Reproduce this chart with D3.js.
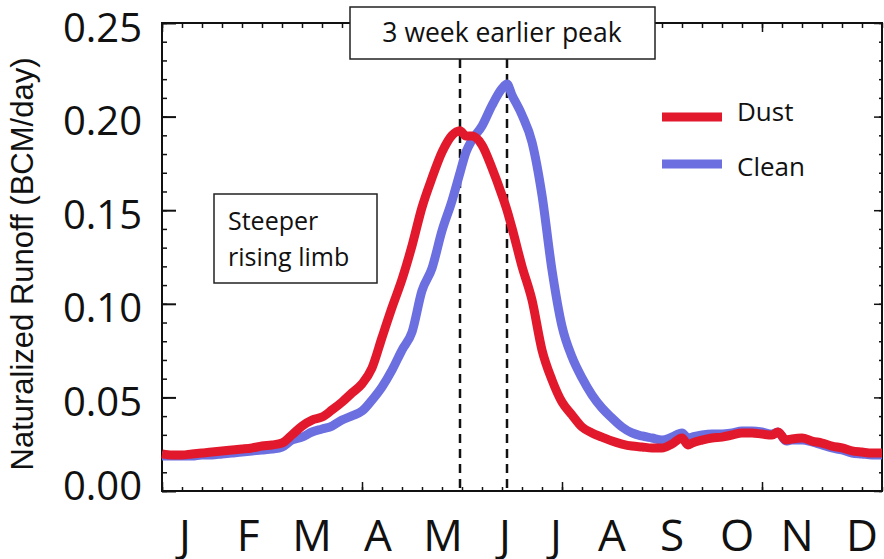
<!DOCTYPE html>
<html lang="en">
<head>
  <meta charset="UTF-8">
  <title>Naturalized Runoff: Dust vs Clean</title>
  <style>
    * { box-sizing: border-box; margin: 0; }
    body { background: #fff; }
    svg { display: block; }
    .tick text { font-family: "Open Sans", sans-serif; fill: #111; }
    .tick line { stroke: #111; }
  </style>
</head>
<body>
  <svg></svg>
  <script src="https://d3js.org/d3.v7.min.js"></script>
  <script>
    // day of water-year axis (0..360)
    const days = [0, 5, 10, 15, 20, 25, 30, 35, 40, 45, 50, 55, 60, 65, 70, 75, 80, 85, 90, 95,
      100, 105, 110, 115, 120, 125, 130, 135, 140, 145, 149, 152, 155, 160, 165, 170, 172.5, 175,
      180, 185, 190, 195, 200, 205, 210, 215, 220, 225, 230, 235, 240, 245, 250, 255, 260, 263,
      265, 270, 275, 280, 285, 290, 295, 300, 305, 308, 312, 315, 320, 325, 330, 335, 340, 345,
      350, 355, 360];

    const dust = [0.0198, 0.0192, 0.0192, 0.0198, 0.0203, 0.0208, 0.0214, 0.0219, 0.0224, 0.0230,
      0.0240, 0.0246, 0.0256, 0.0300, 0.0347, 0.0379, 0.0395, 0.0433, 0.0475, 0.0524,
      0.0572, 0.0657, 0.0820, 0.0980, 0.1130, 0.1310, 0.1515, 0.1672, 0.1810, 0.1900, 0.1925, 0.1896,
      0.1896, 0.1848, 0.1725, 0.1580, 0.1500, 0.1405, 0.1200, 0.1020, 0.0753, 0.0593, 0.0475, 0.0406,
      0.0342, 0.0310, 0.0288, 0.0267, 0.0251, 0.0240, 0.0235, 0.0230, 0.0230, 0.0251, 0.0283, 0.0246,
      0.0256, 0.0272, 0.0283, 0.0288, 0.0299, 0.0310, 0.0310, 0.0304, 0.0299, 0.0315, 0.0272, 0.0278,
      0.0283, 0.0267, 0.0256, 0.0240, 0.0230, 0.0214, 0.0208, 0.0203, 0.0203];

    const clean = [0.0187, 0.0187, 0.0187, 0.0187, 0.0192, 0.0192, 0.0198, 0.0203, 0.0208, 0.0214,
      0.0219, 0.0224, 0.0235, 0.0272, 0.0288, 0.0315, 0.0331, 0.0347, 0.0379, 0.0401,
      0.0427, 0.0486, 0.0556, 0.0646, 0.0753, 0.0849, 0.1070, 0.1190, 0.1390, 0.1550, 0.1700, 0.1810,
      0.1875, 0.1950, 0.2060, 0.2150, 0.2174, 0.2115, 0.2009, 0.1864, 0.1580, 0.1180, 0.0880, 0.0716,
      0.0604, 0.0513, 0.0443, 0.0390, 0.0342, 0.0310, 0.0294, 0.0283, 0.0272, 0.0288, 0.0310, 0.0283,
      0.0288, 0.0299, 0.0304, 0.0304, 0.0310, 0.0320, 0.0320, 0.0315, 0.0304, 0.0315, 0.0267, 0.0272,
      0.0272, 0.0262, 0.0246, 0.0230, 0.0219, 0.0203, 0.0198, 0.0192, 0.0192];

    const monthLabels = ['J', 'F', 'M', 'A', 'M', 'J', 'J', 'A', 'S', 'O', 'N', 'D'];
    const monthPos = [11.5, 43, 75, 108, 140.5, 171.5, 197, 225, 255, 287.5, 317.5, 350];
    const yTicks = [0, 0.05, 0.10, 0.15, 0.20, 0.25];
    const peakDust = 149;
    const peakClean = 172.5;

    const width = 884;
    const height = 559;
    const plot = { left: 162, right: 882, top: 23, bottom: 491 };
    const red = '#e2192c';
    const blue = '#6b6fe0';

    const svg = d3.select('svg')
      .attr('width', width)
      .attr('height', height);

    const x = d3.scaleLinear().domain([0, 360]).range([plot.left, plot.right]);
    const y = d3.scaleLinear().domain([0, 0.25]).range([plot.bottom, plot.top]);

    const minorX = d3.range(0, 361, 10);
    const majorX = [0, 100, 200, 300];
    const minorY = d3.range(0, 26).map(d => d / 100);

    function tickAxis(axis, pos, values, size) {
      const g = svg.append('g')
        .attr('transform', pos)
        .call(axis.tickValues(values).tickSize(size).tickFormat(''));
      g.select('.domain').remove();
      g.selectAll('.tick line').attr('stroke-width', 1.5);
      return g;
    }

    // inward ticks on all four sides
    tickAxis(d3.axisBottom(x), `translate(0,${plot.bottom})`, minorX, -4);
    tickAxis(d3.axisBottom(x), `translate(0,${plot.bottom})`, majorX, -9);
    tickAxis(d3.axisTop(x), `translate(0,${plot.top})`, minorX, -5);
    tickAxis(d3.axisTop(x), `translate(0,${plot.top})`, majorX, -9);
    tickAxis(d3.axisLeft(y), `translate(${plot.left},0)`, minorY, -5);
    tickAxis(d3.axisRight(y), `translate(${plot.right},0)`, minorY, -3);
    tickAxis(d3.axisRight(y), `translate(${plot.right},0)`, yTicks, -8);

    const yAxis = svg.append('g')
      .attr('transform', `translate(${plot.left},0)`)
      .call(d3.axisLeft(y).tickValues(yTicks).tickSize(-14).tickPadding(20)
        .tickFormat(d3.format('.2f')));
    yAxis.select('.domain').remove();
    yAxis.selectAll('.tick line').attr('stroke-width', 2);
    yAxis.selectAll('.tick text')
      .attr('font-size', 40)
      .attr('dy', d => d === 0 ? '0.2em' : '0.45em');

    svg.append('rect')
      .attr('x', plot.left).attr('y', plot.top)
      .attr('width', plot.right - plot.left).attr('height', plot.bottom - plot.top)
      .attr('fill', 'none')
      .attr('stroke', '#111')
      .attr('stroke-width', 2);

    svg.append('g')
      .selectAll('text')
      .data(monthLabels)
      .join('text')
      .attr('x', (d, i) => x(monthPos[i]))
      .attr('y', 551)
      .attr('text-anchor', 'middle')
      .attr('font-family', '"Open Sans", sans-serif')
      .attr('font-size', 44)
      .attr('fill', '#111')
      .text(d => d);

    svg.append('text')
      .attr('transform', 'translate(33,264) rotate(-90)')
      .attr('text-anchor', 'middle')
      .attr('font-family', '"Liberation Sans", Arial, sans-serif')
      .attr('font-size', 31)
      .attr('fill', '#111')
      .text('Naturalized Runoff (BCM/day)');

    // peak markers
    svg.append('g')
      .selectAll('line')
      .data([peakDust, peakClean])
      .join('line')
      .attr('x1', d => x(d)).attr('x2', d => x(d))
      .attr('y1', 59).attr('y2', plot.bottom)
      .attr('stroke', '#111')
      .attr('stroke-width', 2.5)
      .attr('stroke-dasharray', '9,6');

    const line = d3.line()
      .x((d, i) => x(days[i]))
      .y(d => y(d))
      .curve(d3.curveMonotoneX);

    svg.append('path')
      .datum(clean)
      .attr('d', line)
      .attr('fill', 'none')
      .attr('stroke', blue)
      .attr('stroke-width', 9)
      .attr('stroke-linejoin', 'round');

    svg.append('path')
      .datum(dust)
      .attr('d', line)
      .attr('fill', 'none')
      .attr('stroke', red)
      .attr('stroke-width', 9)
      .attr('stroke-linejoin', 'round');

    // legend
    const legend = svg.append('g');
    [['Dust', red, 117, 121], ['Clean', blue, 164, 176]].forEach(([name, color, ly, ty]) => {
      legend.append('line')
        .attr('x1', 662).attr('x2', 722)
        .attr('y1', ly).attr('y2', ly)
        .attr('stroke', color)
        .attr('stroke-width', 9);
      legend.append('text')
        .attr('x', 737).attr('y', ty)
        .attr('font-family', '"Open Sans", sans-serif')
        .attr('font-size', 26)
        .attr('fill', '#111')
        .text(name);
    });

    // annotation boxes
    svg.append('rect')
      .attr('x', 350).attr('y', 7).attr('width', 305).attr('height', 52)
      .attr('fill', '#fff').attr('stroke', '#222').attr('stroke-width', 1.5);
    svg.append('text')
      .attr('x', 502).attr('y', 42)
      .attr('text-anchor', 'middle')
      .attr('font-family', '"Open Sans", sans-serif')
      .attr('font-size', 26.5)
      .attr('fill', '#111')
      .text('3 week earlier peak');

    svg.append('rect')
      .attr('x', 214).attr('y', 194).attr('width', 163).attr('height', 89)
      .attr('fill', '#fff').attr('stroke', '#222').attr('stroke-width', 1.5);
    const limb = svg.append('text')
      .attr('font-family', '"Open Sans", sans-serif')
      .attr('font-size', 25)
      .attr('fill', '#111');
    limb.append('tspan').attr('x', 228).attr('y', 230).text('Steeper');
    limb.append('tspan').attr('x', 228).attr('y', 266).text('rising limb');
  </script>
</body>
</html>
